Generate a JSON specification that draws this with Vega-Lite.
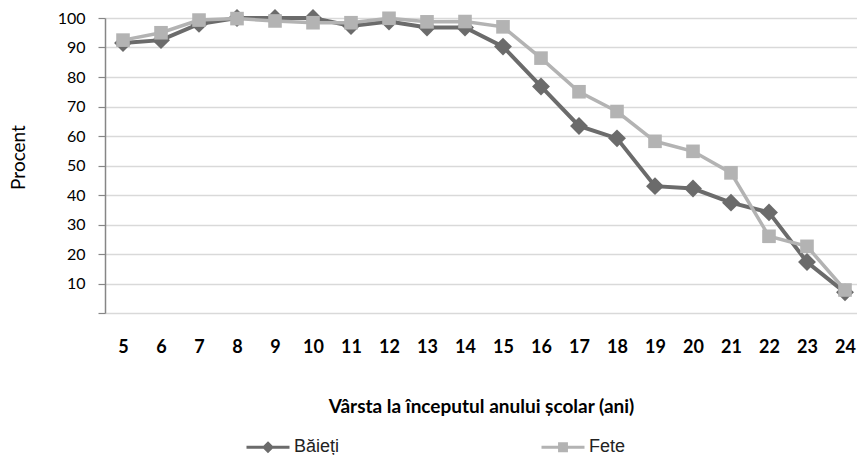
{
  "$schema": "https://vega.github.io/schema/vega-lite/v6.json",
  "width": 752,
  "height": 295,
  "autosize": {"type": "none"},
  "padding": {"left": 105, "top": 18, "right": 0, "bottom": 142},
  "background": "white",
  "config": {
    "view": {"stroke": null},
    "font": "Lato"
  },
  "data": {
    "values": [
      {"age": 5, "sex": "Băieți", "value": 91.5}, {"age": 6, "sex": "Băieți", "value": 92.5},
      {"age": 7, "sex": "Băieți", "value": 98}, {"age": 8, "sex": "Băieți", "value": 100},
      {"age": 9, "sex": "Băieți", "value": 100}, {"age": 10, "sex": "Băieți", "value": 100},
      {"age": 11, "sex": "Băieți", "value": 97.3}, {"age": 12, "sex": "Băieți", "value": 98.8},
      {"age": 13, "sex": "Băieți", "value": 96.8}, {"age": 14, "sex": "Băieți", "value": 96.8},
      {"age": 15, "sex": "Băieți", "value": 90.3}, {"age": 16, "sex": "Băieți", "value": 76.8},
      {"age": 17, "sex": "Băieți", "value": 63.4}, {"age": 18, "sex": "Băieți", "value": 59.2},
      {"age": 19, "sex": "Băieți", "value": 43}, {"age": 20, "sex": "Băieți", "value": 42.2},
      {"age": 21, "sex": "Băieți", "value": 37.4}, {"age": 22, "sex": "Băieți", "value": 34.1},
      {"age": 23, "sex": "Băieți", "value": 17.3}, {"age": 24, "sex": "Băieți", "value": 7},
      {"age": 5, "sex": "Fete", "value": 92.5}, {"age": 6, "sex": "Fete", "value": 95},
      {"age": 7, "sex": "Fete", "value": 99.3}, {"age": 8, "sex": "Fete", "value": 99.8},
      {"age": 9, "sex": "Fete", "value": 99}, {"age": 10, "sex": "Fete", "value": 98.4},
      {"age": 11, "sex": "Fete", "value": 98.4}, {"age": 12, "sex": "Fete", "value": 99.9},
      {"age": 13, "sex": "Fete", "value": 98.7}, {"age": 14, "sex": "Fete", "value": 98.8},
      {"age": 15, "sex": "Fete", "value": 97}, {"age": 16, "sex": "Fete", "value": 86.4},
      {"age": 17, "sex": "Fete", "value": 75}, {"age": 18, "sex": "Fete", "value": 68.3},
      {"age": 19, "sex": "Fete", "value": 58.2}, {"age": 20, "sex": "Fete", "value": 54.8},
      {"age": 21, "sex": "Fete", "value": 47.5}, {"age": 22, "sex": "Fete", "value": 26},
      {"age": 23, "sex": "Fete", "value": 22.6}, {"age": 24, "sex": "Fete", "value": 7.8}
    ]
  },
  "encoding": {
    "x": {
      "field": "age",
      "type": "quantitative",
      "scale": {"domain": [4.526, 24.316], "nice": false, "zero": false},
      "axis": {
        "values": [5,6,7,8,9,10,11,12,13,14,15,16,17,18,19,20,21,22,23,24],
        "format": "d",
        "grid": false,
        "domain": false,
        "ticks": false,
        "labelFont": "Lato",
        "labelFontWeight": "bold",
        "labelFontSize": 18,
        "labelColor": "#000000",
        "labelPadding": 25,
        "title": "Vârsta la începutul anului școlar (ani)",
        "titleFont": "Lato",
        "titleFontWeight": "bold",
        "titleFontSize": 19,
        "titleColor": "#000000",
        "titleY": 93,
        "titleBaseline": "middle"
      }
    },
    "y": {
      "field": "value",
      "type": "quantitative",
      "scale": {"domain": [0, 100], "nice": false},
      "axis": {
        "values": [0,10,20,30,40,50,60,70,80,90,100],
        "labelExpr": "datum.value === 0 ? '' : datum.label",
        "grid": true,
        "gridColor": "#d9d9d9",
        "gridWidth": 1.5,
        "domain": true,
        "domainColor": "#868686",
        "domainWidth": 1.5,
        "ticks": true,
        "tickColor": "#868686",
        "tickSize": 7,
        "tickWidth": 1.2,
        "labelFont": "Lato",
        "labelFontSize": 16,
        "labelColor": "#000000",
        "labelPadding": 13,
        "title": "Procent",
        "titleFont": "Lato",
        "titleFontWeight": "normal",
        "titleFontSize": 19,
        "titleColor": "#000000",
        "titleX": -87,
        "titleY": 139,
        "titleAngle": -90,
        "titleAlign": "center",
        "titleBaseline": "middle"
      }
    },
    "color": {
      "field": "sex",
      "type": "nominal",
      "scale": {"domain": ["Băieți", "Fete"], "range": ["#6b6b6b", "#b3b3b3"]},
      "legend": {
        "title": null,
        "orient": "none",
        "legendX": 140,
        "legendY": 406,
        "direction": "horizontal",
        "columns": 2,
        "columnPadding": 195,
        "symbolSize": 1849,
        "symbolStrokeWidth": 3,
        "labelFont": "Liberation Sans",
        "labelFontSize": 18,
        "labelColor": "#222222",
        "labelOffset": 3,
        "encode": {
          "symbols": {
            "update": {
              "shape": {"signal": "datum.value === 'Băieți' ? 'M0,-0.3L0,-0.3M0,0.3L0,0.3M-1,0L1,0M0,-0.18L0.18,0L0,0.18L-0.18,0Z' : 'M0,-0.3L0,-0.3M0,0.3L0,0.3M-1,0L1,0M-0.16,-0.16L0.16,-0.16L0.16,0.16L-0.16,0.16Z'"},
              "fill": {"signal": "datum.value === 'Băieți' ? '#6b6b6b' : '#b3b3b3'"},
              "stroke": {"signal": "datum.value === 'Băieți' ? '#6b6b6b' : '#b3b3b3'"},
              "strokeWidth": {"value": 3},
              "opacity": {"value": 1}
            }
          }
        }
      }
    }
  },
  "layer": [
    {
      "transform": [{"filter": "datum.sex === 'Băieți'"}],
      "mark": {"type": "line", "strokeWidth": 4}
    },
    {
      "transform": [{"filter": "datum.sex === 'Băieți'"}],
      "mark": {"type": "point", "shape": "diamond", "filled": true, "size": 320, "opacity": 1}
    },
    {
      "transform": [{"filter": "datum.sex === 'Fete'"}],
      "mark": {"type": "line", "strokeWidth": 3.5}
    },
    {
      "transform": [{"filter": "datum.sex === 'Fete'"}],
      "mark": {"type": "point", "shape": "square", "filled": true, "size": 185, "opacity": 1}
    }
  ]
}
